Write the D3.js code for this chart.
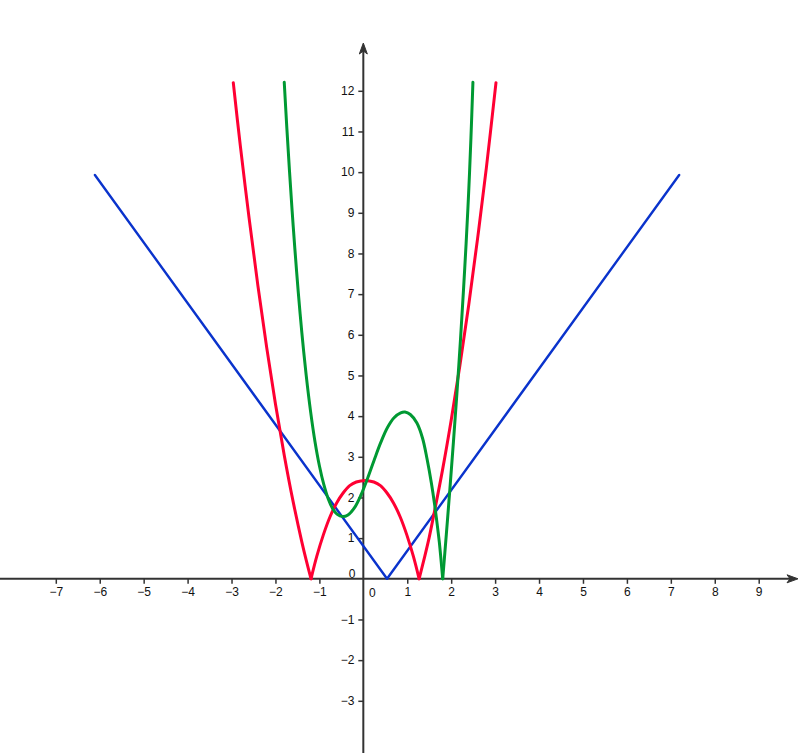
<!DOCTYPE html>
<html>
<head>
<meta charset="utf-8">
<script src="https://cdn.jsdelivr.net/npm/d3@7"></script>
<style>
  html, body { margin: 0; padding: 0; background: #ffffff; }
  svg { display: block; }
  .tick text { font-family: "Liberation Sans", Arial, sans-serif; font-size: 12px; fill: #111; }
</style>
</head>
<body>
<svg id="chart" width="800" height="753"></svg>
<script>
// ---- data ----
const xTickValues = [-7, -6, -5, -4, -3, -2, -1, 1, 2, 3, 4, 5, 6, 7, 8, 9];
const yTickValues = [-3, -2, -1, 1, 2, 3, 4, 5, 6, 7, 8, 9, 10, 11, 12];

// blue: V shaped line
const blueLine = [[-6.11, 9.93], [0.54, 0], [7.19, 9.93]];

// red: three smooth pieces between the kinks on the x axis
const redLeft = [[-2.96, 12.2], [-2.8, 10.65], [-2.6, 8.87], [-2.4, 7.21], [-2.2, 5.69],
                 [-2.0, 4.30], [-1.8, 3.04], [-1.6, 1.91], [-1.4, 0.91], [-1.3, 0.46], [-1.19, 0]];
const redMiddle = [[-1.19, 0], [-1.06, 0.55], [-0.91, 1.08], [-0.76, 1.52], [-0.61, 1.86],
                   [-0.46, 2.11], [-0.31, 2.29], [-0.16, 2.38], [0.04, 2.42], [0.24, 2.38],
                   [0.39, 2.29], [0.54, 2.11], [0.69, 1.86], [0.84, 1.52], [0.99, 1.08],
                   [1.14, 0.55], [1.27, 0]];
const redRight = [[1.27, 0], [1.4, 0.56], [1.5, 1.02], [1.6, 1.55], [1.8, 2.66], [2.0, 3.90],
                  [2.2, 5.26], [2.4, 6.74], [2.6, 8.36], [2.8, 10.10], [3.02, 12.2]];

// green: two smooth pieces (kink at the zero near x = 1.8)
const greenMain = [[-1.80, 12.21], [-1.74, 11.07], [-1.68, 10.02], [-1.62, 9.04], [-1.56, 8.14],
                   [-1.48, 7.04], [-1.40, 6.06], [-1.30, 5.00], [-1.20, 4.11], [-1.10, 3.37],
                   [-1.00, 2.78], [-0.90, 2.32], [-0.80, 1.97], [-0.70, 1.73], [-0.60, 1.59],
                   [-0.47, 1.53], [-0.35, 1.57], [-0.2, 1.75], [-0.05, 2.07], [0.1, 2.48],
                   [0.25, 2.93], [0.4, 3.36], [0.55, 3.72], [0.7, 3.96], [0.85, 4.08],
                   [0.95, 4.10], [1.07, 4.04], [1.22, 3.83], [1.35, 3.45], [1.45, 2.95],
                   [1.55, 2.35], [1.62, 1.85], [1.68, 1.35], [1.73, 0.9], [1.807, 0]];
const greenRight = [[1.807, 0], [1.89, 1.1], [1.97, 2.2], [2.05, 3.35], [2.13, 4.55],
                    [2.21, 5.85], [2.28, 7.1], [2.34, 8.25], [2.40, 9.55], [2.45, 10.85],
                    [2.495, 12.21]];

// ---- drawing ----
const W = 800, H = 753;
const svg = d3.select("#chart");
svg.append("rect").attr("width", W).attr("height", H).attr("fill", "#ffffff");

const x = d3.scaleLinear().domain([-7, 9]).range([55.8, 758.7]);
const y = d3.scaleLinear().domain([0, 12]).range([578.8, 90.8]);

const axisColor = "#333333";
const x0 = x(0), y0 = y(0);

// x axis ticks + labels
const gx = svg.append("g").attr("transform", `translate(0,${y0})`)
  .call(d3.axisBottom(x).tickValues(xTickValues).tickSize(5).tickPadding(4)
        .tickFormat(d => d < 0 ? "\u2212" + Math.abs(d) : String(d)));
gx.select(".domain").remove();
gx.selectAll(".tick line").attr("stroke", axisColor).attr("stroke-width", 1.5);

// y axis ticks + labels
const gy = svg.append("g").attr("transform", `translate(${x0},0)`)
  .call(d3.axisLeft(y).tickValues(yTickValues).tickSize(5).tickPadding(4)
        .tickFormat(d => d < 0 ? "\u2212" + Math.abs(d) : String(d)));
gy.select(".domain").remove();
gy.selectAll(".tick line").attr("stroke", axisColor).attr("stroke-width", 1.5);

// zero labels
svg.append("text").attr("x", x0 - 8).attr("y", y0 - 1).attr("text-anchor", "end")
  .attr("font-family", "Liberation Sans, Arial, sans-serif").attr("font-size", 12)
  .attr("fill", "#111").text("0");
svg.append("text").attr("x", x0 + 9).attr("y", y0 + 18).attr("text-anchor", "middle")
  .attr("font-family", "Liberation Sans, Arial, sans-serif").attr("font-size", 12)
  .attr("fill", "#111").text("0");

// axis lines with arrows
svg.append("line").attr("x1", 0).attr("x2", 795).attr("y1", y0).attr("y2", y0)
  .attr("stroke", axisColor).attr("stroke-width", 2);
svg.append("line").attr("x1", x0).attr("x2", x0).attr("y1", H).attr("y2", 47)
  .attr("stroke", axisColor).attr("stroke-width", 2);
svg.append("path")
  .attr("d", `M${798},${y0} L${787},${y0 - 4} L${790},${y0} L${787},${y0 + 4} Z`)
  .attr("fill", axisColor).attr("stroke", axisColor).attr("stroke-width", 1).attr("stroke-linejoin", "round");
svg.append("path")
  .attr("d", `M${x0},${43} L${x0 - 4},${54} L${x0},${51} L${x0 + 4},${54} Z`)
  .attr("fill", axisColor).attr("stroke", axisColor).attr("stroke-width", 1).attr("stroke-linejoin", "round");

// curves
const smooth = d3.line().x(d => x(d[0])).y(d => y(d[1])).curve(d3.curveCatmullRom.alpha(0.5));
const straight = d3.line().x(d => x(d[0])).y(d => y(d[1]));

const curves = svg.append("g").attr("fill", "none")
  .attr("stroke-linecap", "round").attr("stroke-linejoin", "round");

curves.append("path").attr("d", straight(blueLine))
  .attr("stroke", "#0a33cc").attr("stroke-width", 2.4);

[redLeft, redMiddle, redRight].forEach(seg => {
  curves.append("path").attr("d", smooth(seg)).attr("stroke", "#ff0033").attr("stroke-width", 3);
});
[greenMain, greenRight].forEach(seg => {
  curves.append("path").attr("d", smooth(seg)).attr("stroke", "#009933").attr("stroke-width", 3);
});
</script>
</body>
</html>
